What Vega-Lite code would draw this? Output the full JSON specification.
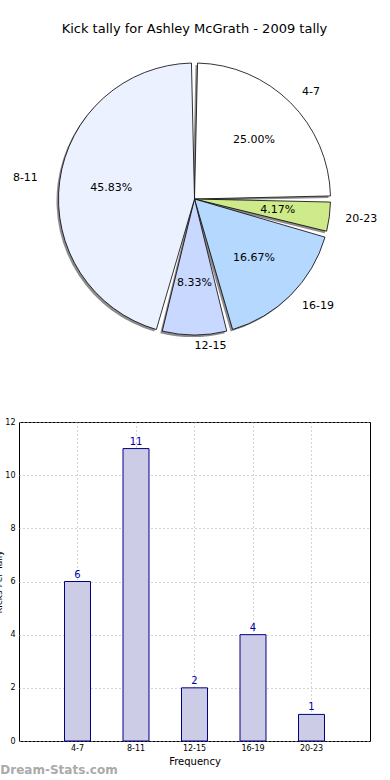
{
  "$schema": "https://vega.github.io/schema/vega-lite/v6.json",
  "padding": {"left": -6, "top": 23, "right": 20, "bottom": 3},
  "config": {
    "font": "DejaVu Sans",
    "view": {"stroke": null},
    "axis": {"labelFont": "DejaVu Sans", "titleFont": "DejaVu Sans"}
  },
  "datasets": {
    "tally": [
      {"range": "4-7", "count": 6, "pct": "25.00%", "k": 1},
      {"range": "20-23", "count": 1, "pct": "4.17%", "k": 2},
      {"range": "16-19", "count": 4, "pct": "16.67%", "k": 3},
      {"range": "12-15", "count": 2, "pct": "8.33%", "k": 4},
      {"range": "8-11", "count": 11, "pct": "45.83%", "k": 5}
    ]
  },
  "title": {
    "text": "Dream-Stats.com",
    "orient": "bottom",
    "anchor": "start",
    "frame": "bounds",
    "color": "#aaaaaa",
    "fontSize": 12,
    "fontWeight": "bold",
    "offset": -2,
    "dx": 6
  },
  "spacing": 55,
  "vconcat": [
    {
      "width": 351,
      "height": 300,
      "title": {
        "text": "Kick tally for Ashley McGrath - 2009 tally",
        "fontSize": 13,
        "fontWeight": "normal",
        "color": "#000000",
        "offset": 13
      },
      "data": {"name": "tally"},
      "encoding": {
        "theta": {"field": "count", "type": "quantitative", "stack": true},
        "order": {"field": "k", "type": "quantitative"}
      },
      "layer": [
        {
          "mark": {"type": "arc", "outerRadius": 136, "padAngle": 0.045, "fill": "#8c8c8c", "xOffset": -2, "yOffset": 2}
        },
        {
          "mark": {"type": "arc", "outerRadius": 136, "padAngle": 0.045, "stroke": "#000000", "strokeWidth": 0.8},
          "encoding": {
            "color": {
              "field": "range",
              "type": "nominal",
              "legend": null,
              "scale": {
                "domain": ["4-7", "8-11", "12-15", "16-19", "20-23"],
                "range": ["#ffffff", "#ebf1ff", "#c8d8ff", "#b5d8ff", "#ceea8a"]
              }
            }
          }
        },
        {
          "mark": {"type": "text", "radius": 84, "fontSize": 11, "color": "#000000"},
          "encoding": {"text": {"field": "pct"}}
        },
        {
          "mark": {"type": "text", "radius": 152, "fontSize": 11, "color": "#000000", "align": "left"},
          "encoding": {"text": {"condition": {"test": "datum.k <= 3", "field": "range"}, "value": ""}}
        },
        {
          "mark": {"type": "text", "radius": 147, "fontSize": 11, "color": "#000000", "align": "left"},
          "encoding": {"text": {"condition": {"test": "datum.k == 4", "field": "range"}, "value": ""}}
        },
        {
          "mark": {"type": "text", "radius": 158, "fontSize": 11, "color": "#000000", "align": "right"},
          "encoding": {"text": {"condition": {"test": "datum.k == 5", "field": "range"}, "value": ""}}
        }
      ]
    },
    {
      "width": 351,
      "height": 319,
      "view": {"stroke": "#000000", "strokeWidth": 1},
      "data": {"name": "tally"},
      "encoding": {
        "x": {
          "field": "range",
          "type": "nominal",
          "scale": {"domain": ["4-7", "8-11", "12-15", "16-19", "20-23"], "paddingInner": 0.556, "paddingOuter": 0.778},
          "axis": {
            "title": "Frequency",
            "titleFontSize": 10,
            "titleFontWeight": "normal",
            "titlePadding": 4,
            "labelAngle": 0,
            "labelFontSize": 8,
            "labelPadding": 3,
            "tickSize": 0,
            "bandPosition": 0.5,
            "grid": true,
            "gridDash": [1, 3],
            "gridColor": "#aaaaaa",
            "domain": false
          }
        },
        "y": {
          "field": "count",
          "type": "quantitative",
          "scale": {"domain": [0, 12], "nice": false},
          "axis": {
            "title": "Kicks Per Tally",
            "titleFontSize": 9,
            "titleFontWeight": "normal",
            "titlePadding": 1,
            "values": [0, 2, 4, 6, 8, 10, 12],
            "labelFontSize": 8,
            "labelPadding": 4,
            "tickSize": 0,
            "grid": true,
            "gridDash": [1, 3],
            "gridColor": "#aaaaaa",
            "domain": false
          }
        }
      },
      "layer": [
        {
          "mark": {"type": "bar", "fill": "#cccce6", "stroke": "#000080", "strokeWidth": 1}
        },
        {
          "mark": {"type": "text", "baseline": "bottom", "dy": -2, "fontSize": 10, "color": "#0000aa"},
          "encoding": {"text": {"field": "count"}}
        }
      ]
    }
  ]
}
